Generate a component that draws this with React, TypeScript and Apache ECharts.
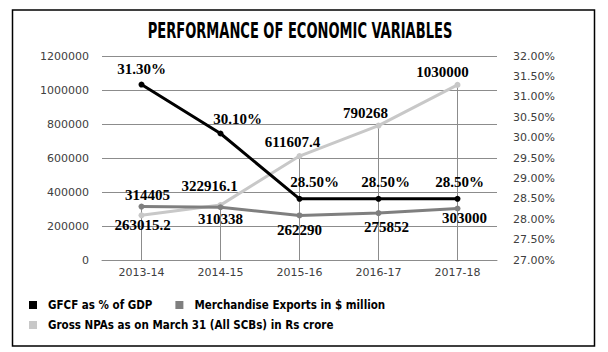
import React, { useEffect, useRef } from "react";
import * as echarts from "echarts";

const TITLE = "PERFORMANCE OF ECONOMIC VARIABLES";
const categories = ["2013-14", "2014-15", "2015-16", "2016-17", "2017-18"];
const gfcfPct = [31.3, 30.1, 28.5, 28.5, 28.5];
const exportsUsdMn = [314405, 310338, 262290, 275852, 303000];
const grossNpas = [263015.2, 322916.1, 611607.4, 790268, 1030000];
const seriesNames = [
  "GFCF as % of GDP",
  "Merchandise Exports in $ million",
  "Gross NPAs as on March 31 (All SCBs) in Rs crore",
];

// label placement per point (position, offset)
const gfcfLabelPos = [
  { position: "top", offset: [0, 0] },
  { position: "top", offset: [17, 1] },
  { position: "top", offset: [15, -1] },
  { position: "top", offset: [7, -1] },
  { position: "top", offset: [2, -1] },
];
const exportsLabelPos = [
  { position: "top", offset: [6, 4] },
  { position: "bottom", offset: [0, -4] },
  { position: "bottom", offset: [0, -1] },
  { position: "bottom", offset: [8, -2] },
  { position: "bottom", offset: [7, -6] },
];
const npaLabelPos = [
  { position: "bottom", offset: [1, -6] },
  { position: "top", offset: [-11, -4] },
  { position: "top", offset: [-7, 1] },
  { position: "top", offset: [-13, 3] },
  { position: "top", offset: [-15, 3] },
];

const LABEL_FONT = "'Liberation Serif', 'DejaVu Serif', serif";
const NARROW = "'Liberation Sans Narrow', 'DejaVu Sans Condensed', sans-serif";
const AXIS_FONT = "'DejaVu Sans', Verdana, sans-serif";

function withLabels(values: number[], pos: any[], fmt: (v: number) => string) {
  return values.map((v, i) => ({
    value: v,
    label: {
      show: true,
      position: pos[i].position,
      offset: pos[i].offset,
      formatter: () => fmt(v),
    },
  }));
}

export default function App() {
  const ref = useRef<HTMLDivElement>(null);
  useEffect(() => {
    if (!ref.current) return;
    const chart = echarts.init(ref.current, undefined, { renderer: "svg" });
    const labelStyle = {
      fontFamily: LABEL_FONT,
      fontWeight: "bold",
      fontSize: 15,
      color: "#000",
    };
    const legendText = {
      fontFamily: NARROW,
      fontWeight: "bold",
      fontSize: 11.5,
      color: "#000",
      padding: [0, 0, 0, 6],
    };
    const dropLines = exportsUsdMn.map((v, i) => Math.max(v, grossNpas[i]));
    chart.setOption({
      animation: false,
      backgroundColor: "#fff",
      grid: { left: 102, right: 111, top: 56, bottom: 92 },
      graphic: [
        {
          type: "rect",
          shape: { x: 12.5, y: 10, width: 582, height: 336 },
          style: { fill: "none", stroke: "#000", lineWidth: 1.5 },
          z: -10,
        },
        {
          type: "text",
          x: 300,
          y: 30,
          scaleX: 0.66,
          style: {
            text: TITLE,
            x: 0,
            y: 0,
            align: "center",
            verticalAlign: "middle",
            font: `bold 22px ${NARROW}`,
            fill: "#000",
          },
        },
      ],
      legend: [
        {
          data: [seriesNames[0], seriesNames[1]],
          left: 24,
          top: 294,
          icon: "rect",
          itemWidth: 8,
          itemHeight: 8,
          itemGap: 23,
          padding: 5,
          textStyle: legendText,
        },
        {
          data: [seriesNames[2]],
          left: 24,
          top: 314,
          icon: "rect",
          itemWidth: 8,
          itemHeight: 8,
          padding: 5,
          textStyle: legendText,
        },
      ],
      xAxis: {
        type: "category",
        data: categories,
        boundaryGap: true,
        axisLine: { show: true, lineStyle: { color: "#8c8c8c", width: 1 } },
        axisTick: { show: false },
        axisLabel: { fontFamily: AXIS_FONT, fontSize: 11, color: "#404040", margin: 7 },
      },
      yAxis: [
        {
          type: "value",
          min: 0,
          max: 1200000,
          interval: 200000,
          axisLine: { show: false },
          axisTick: { show: false },
          splitLine: { show: true, lineStyle: { color: "#8c8c8c", width: 1 } },
          axisLabel: {
            fontFamily: AXIS_FONT,
            fontSize: 11,
            color: "#404040",
            margin: 13,
            formatter: (v: number) => String(v),
          },
        },
        {
          type: "value",
          min: 27,
          max: 32,
          interval: 0.5,
          position: "right",
          axisLine: { show: false },
          axisTick: { show: false },
          splitLine: { show: false },
          axisLabel: {
            fontFamily: AXIS_FONT,
            fontSize: 11,
            color: "#404040",
            margin: 16,
            formatter: (v: number) => v.toFixed(2) + "%",
          },
        },
      ],
      series: [
        {
          name: "drop",
          type: "bar",
          yAxisIndex: 0,
          data: dropLines,
          barWidth: 1,
          itemStyle: { color: "#8c8c8c" },
          silent: true,
          z: 1,
        },
        {
          name: seriesNames[2],
          type: "line",
          yAxisIndex: 0,
          data: withLabels(grossNpas, npaLabelPos, (v) => String(v)),
          symbol: "circle",
          symbolSize: 6,
          lineStyle: { color: "#c8c8c8", width: 3 },
          itemStyle: { color: "#c8c8c8" },
          label: labelStyle,
          z: 3,
        },
        {
          name: seriesNames[1],
          type: "line",
          yAxisIndex: 0,
          data: withLabels(exportsUsdMn, exportsLabelPos, (v) => String(v)),
          symbol: "circle",
          symbolSize: 6,
          lineStyle: { color: "#7f7f7f", width: 3 },
          itemStyle: { color: "#7f7f7f" },
          label: labelStyle,
          z: 4,
        },
        {
          name: seriesNames[0],
          type: "line",
          yAxisIndex: 1,
          data: withLabels(gfcfPct, gfcfLabelPos, (v) => v.toFixed(2) + "%"),
          symbol: "circle",
          symbolSize: 6,
          lineStyle: { color: "#000", width: 3 },
          itemStyle: { color: "#000" },
          label: labelStyle,
          z: 5,
        },
      ],
    });
    return () => chart.dispose();
  }, []);
  return (
    <div
      ref={ref}
      style={{ position: "absolute", left: 0, top: 0, width: 608, height: 352 }}
    />
  );
}
